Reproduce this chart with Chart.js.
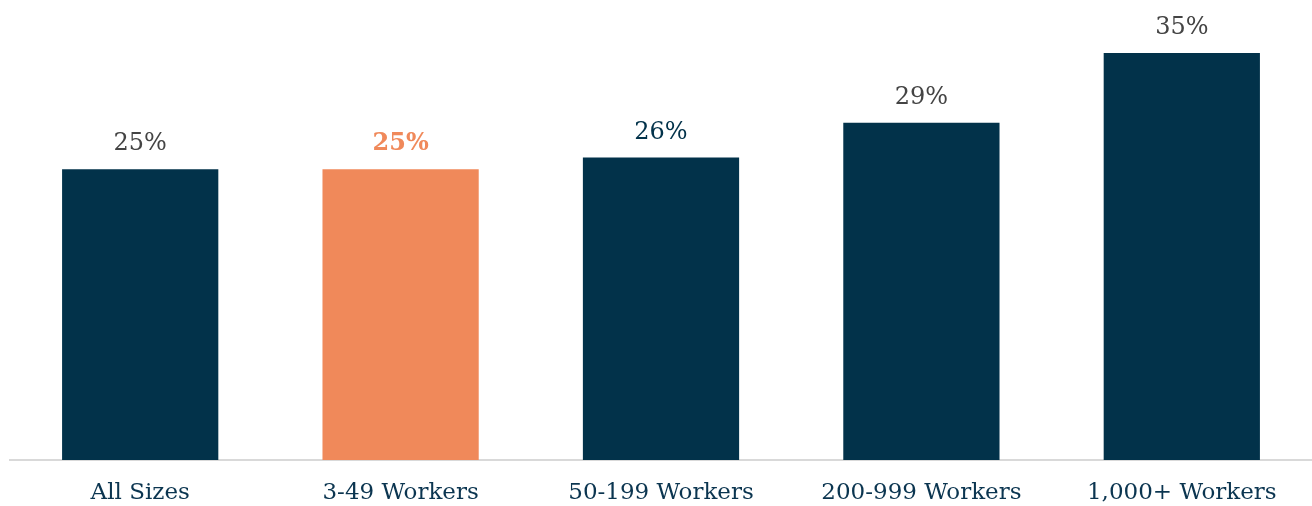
<!DOCTYPE html>
<html>
<head>
<meta charset="utf-8">
<script src="https://cdn.jsdelivr.net/npm/chart.js@4"></script>
<style>
    html, body { margin: 0; padding: 0; background: #fff; }
    #wrap { width: 1312px; height: 506px; }
</style>
</head>
<body>
<div id="wrap"><canvas id="sizeChart"></canvas></div>
<script>
// Share by firm size
const categories = ["All Sizes", "3-49 Workers", "50-199 Workers", "200-999 Workers", "1,000+ Workers"];
const values = [25, 25, 26, 29, 35];
const barColors = ["#02324a", "#f0895a", "#02324a", "#02324a", "#02324a"];
const labelColors = ["#444444", "#f0895a", "#02324a", "#444444", "#444444"];
const labelBold = [false, true, false, false, false];

const serif = "'DejaVu Serif', 'Liberation Serif', serif";

// Draw the "25%" labels above each bar
const valueLabels = {
    id: "valueLabels",
    afterDatasetsDraw(chart) {
        const ctx = chart.ctx;
        const meta = chart.getDatasetMeta(0);
        ctx.save();
        ctx.textAlign = "center";
        ctx.textBaseline = "middle";
        meta.data.forEach((bar, i) => {
            ctx.font = (labelBold[i] ? "bold " : "") + "24px " + serif;
            ctx.fillStyle = labelColors[i];
            ctx.fillText(values[i] + "%", bar.x, bar.y - 25);
        });
        ctx.restore();
    },
};

const ctx = document.getElementById("sizeChart").getContext("2d");
new Chart(ctx, {
    type: "bar",
    data: {
        labels: categories,
        datasets: [
            {
                data: values,
                backgroundColor: barColors,
                barPercentage: 0.6,
                categoryPercentage: 1,
            },
        ],
    },
    options: {
        responsive: true,
        maintainAspectRatio: false,
        animation: false,
        layout: {
            padding: { left: 10, right: 0, top: 18, bottom: 0 },
        },
        plugins: {
            legend: { display: false },
            tooltip: { enabled: false },
        },
        scales: {
            x: {
                grid: { display: false },
                border: { color: "#d9d9d9", width: 2 },
                afterFit(scale) {
                    scale.height = 46;
                },
                ticks: {
                    color: "#0b3550",
                    padding: 11,
                    maxRotation: 0,
                    font: { family: serif, size: 23 },
                },
            },
            y: {
                display: false,
                min: 0,
                max: 38,
            },
        },
    },
    plugins: [valueLabels],
});
</script>
</body>
</html>
